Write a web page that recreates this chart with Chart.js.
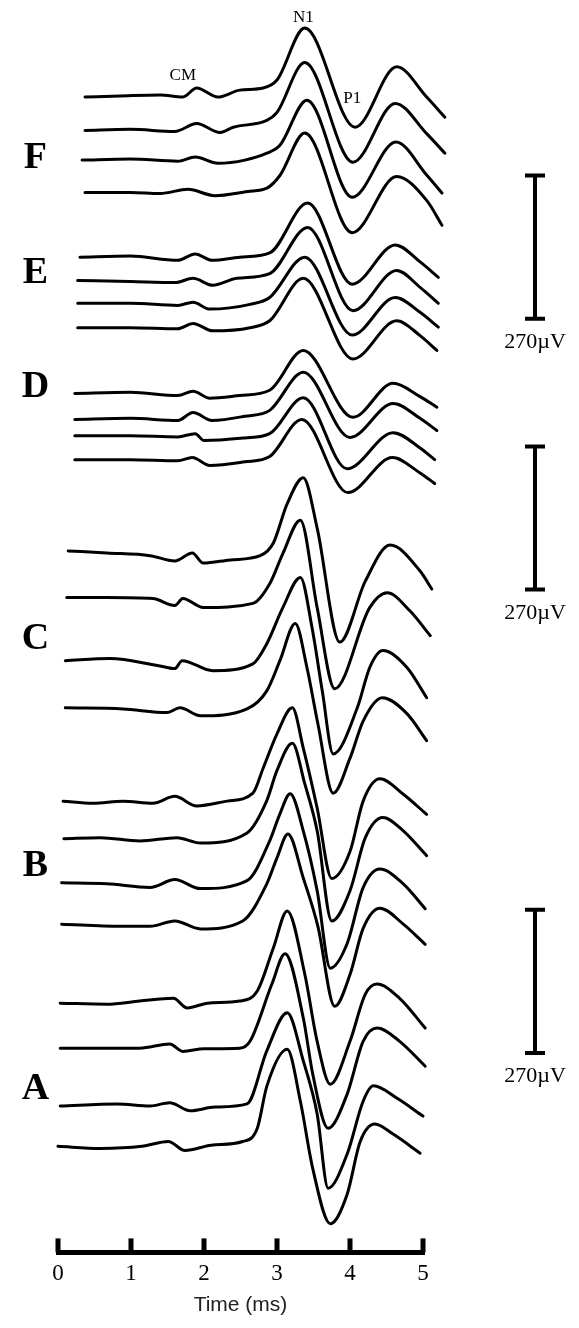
<!DOCTYPE html>
<html>
<head>
<meta charset="utf-8">
<script src="https://cdn.jsdelivr.net/npm/chart.js@4.4.1/dist/chart.umd.min.js"></script>
<style>
  html, body { margin: 0; padding: 0; background: #fff; }
  canvas { display: block; }
</style>
</head>
<body>
<canvas id="chart" width="579" height="1328"></canvas>
<script>
// Stacked evoked responses. Times in ms, amplitudes in µV relative to each trace's baseline.
// Each group holds 4 traces, top to bottom.
const groupNames = ['A', 'B', 'C', 'D', 'E', 'F'];
const xTicks = [0, 1, 2, 3, 4, 5];
const scaleBarValue = 270; // µV

// vertical stacking offsets (µV above the time axis)
const offsetsF = [2181, 2118, 2062, 2001];
const offsetsE = [1879, 1835, 1792, 1746];
const offsetsD = [1622, 1573, 1542, 1497];
const offsetsC = [1325, 1237, 1118, 1029];
const offsetsB = [853, 782, 699, 621];
const offsetsA = [472, 387, 278, 202];

const timesF = [
  [0.37, 0.85, 1.40, 1.71, 1.90, 2.19, 2.49, 2.81, 3.00, 3.38, 4.07, 4.64, 5.05, 5.30],
  [0.37, 0.99, 1.60, 1.90, 2.22, 2.40, 2.86, 3.00, 3.38, 4.04, 4.62, 5.05, 5.30],
  [0.33, 0.99, 1.64, 1.88, 2.19, 2.56, 2.86, 3.04, 3.41, 4.03, 4.63, 5.05, 5.26],
  [0.37, 0.99, 1.40, 1.78, 2.15, 2.60, 2.86, 3.04, 3.38, 4.03, 4.64, 5.05, 5.26]
];
const valuesF = [
  [0, 2, 4, 0, 17, 0, 13, 17, 32, 130, -57, 57, 0, -38],
  [0, 2, -2, 13, -4, 6, 19, 34, 128, -60, 51, -6, -43],
  [0, 2, -2, 6, -6, 0, 13, 28, 113, -70, 34, -28, -62],
  [0, 0, -2, 6, -6, 2, 8, 32, 112, -76, 30, -15, -62]
];

const timesE = [
  [0.30, 0.99, 1.64, 1.88, 2.11, 2.49, 2.90, 3.42, 4.03, 4.62, 4.96, 5.21],
  [0.27, 0.99, 1.60, 1.85, 2.12, 2.45, 2.90, 3.42, 4.04, 4.64, 4.96, 5.21],
  [0.27, 0.99, 1.64, 1.85, 2.08, 2.63, 2.90, 3.38, 4.03, 4.62, 4.96, 5.21],
  [0.27, 0.99, 1.64, 1.85, 2.12, 2.63, 2.90, 3.36, 4.04, 4.64, 4.96, 5.19]
];
const valuesE = [
  [0, 2, -6, 6, -6, 0, 8, 102, -51, 23, -9, -38],
  [0, -2, -4, 4, -9, 4, 13, 100, -57, 19, -13, -43],
  [0, 0, -4, 2, -11, -2, 11, 87, -60, 11, -17, -45],
  [0, 0, -2, 8, -6, 0, 13, 93, -59, 13, -15, -43]
];

const timesD = [
  [0.23, 0.99, 1.64, 1.85, 2.08, 2.49, 2.90, 3.36, 4.04, 4.59, 4.96, 5.19],
  [0.23, 0.99, 1.64, 1.85, 2.11, 2.56, 2.90, 3.36, 4.00, 4.59, 4.96, 5.19],
  [0.23, 0.99, 1.64, 1.88, 2.00, 2.56, 2.90, 3.36, 3.96, 4.59, 4.96, 5.16],
  [0.23, 0.99, 1.64, 1.84, 2.08, 2.56, 2.90, 3.34, 3.97, 4.58, 4.96, 5.16]
];
const valuesD = [
  [0, 2, -4, 4, -9, -4, 6, 81, -45, 19, -6, -26],
  [0, 2, -2, 13, -2, 6, 17, 89, -34, 30, 2, -21],
  [0, 0, -2, 4, -9, -4, 4, 72, -62, 6, -23, -45],
  [0, 0, -2, 4, -11, -4, 6, 76, -62, 4, -25, -45]
];

const timesC = [
  [0.14, 0.67, 1.26, 1.60, 1.84, 1.99, 2.36, 2.77, 2.95, 3.14, 3.36, 3.55, 3.86, 4.21, 4.55, 4.96, 5.12],
  [0.12, 0.67, 1.30, 1.60, 1.71, 1.99, 2.67, 2.90, 3.08, 3.32, 3.55, 3.79, 4.27, 4.51, 4.82, 5.10],
  [0.10, 0.71, 1.36, 1.60, 1.70, 2.12, 2.67, 2.86, 3.08, 3.32, 3.48, 3.62, 3.77, 4.10, 4.27, 4.45, 4.78, 5.05],
  [0.10, 0.89, 1.49, 1.67, 1.95, 2.59, 2.86, 3.04, 3.25, 3.41, 3.56, 3.77, 4.00, 4.18, 4.44, 4.78, 5.05]
];
const valuesC = [
  [0, -4, -9, -19, -4, -23, -17, -9, 15, 89, 138, 43, -172, -57, 11, -38, -72],
  [0, 0, -2, -15, -2, -19, -11, 26, 83, 146, -19, -172, -19, 9, -25, -72],
  [0, 4, -9, -15, 0, -19, -6, 32, 100, 157, 62, -57, -176, -89, -13, 19, -13, -70],
  [0, -2, -9, 0, -15, -2, 32, 89, 159, 76, -30, -161, -95, -25, 19, -11, -62]
];

const timesB = [
  [0.07, 0.48, 0.89, 1.30, 1.60, 1.90, 2.32, 2.67, 2.81, 3.00, 3.21, 3.36, 3.55, 3.75, 4.00, 4.18, 4.41, 4.73, 5.05],
  [0.08, 0.58, 1.12, 1.63, 1.95, 2.59, 2.86, 3.00, 3.21, 3.38, 3.55, 3.75, 4.00, 4.21, 4.45, 4.73, 5.05],
  [0.05, 0.67, 1.26, 1.60, 1.95, 2.59, 2.90, 3.04, 3.18, 3.36, 3.55, 3.73, 3.96, 4.18, 4.41, 4.73, 5.03],
  [0.05, 0.85, 1.26, 1.60, 1.95, 2.53, 2.86, 3.00, 3.15, 3.36, 3.56, 3.79, 4.00, 4.18, 4.41, 4.73, 5.03]
];
const valuesB = [
  [0, -4, 0, -4, 9, -9, 0, 15, 62, 127, 176, 100, -13, -146, -95, 0, 42, 13, -25],
  [0, 2, -4, 2, -8, 11, 72, 129, 180, 104, 15, -155, -98, 2, 40, 15, -32],
  [0, -2, -9, 6, -11, 4, 79, 130, 168, 98, -15, -161, -115, -9, 26, -2, -49],
  [0, -4, -4, 6, -9, 6, 76, 125, 170, 87, -4, -155, -95, -8, 30, 0, -38]
];

const timesA = [
  [0.03, 0.67, 1.12, 1.58, 1.77, 2.05, 2.49, 2.73, 2.95, 3.14, 3.38, 3.55, 3.73, 4.00, 4.21, 4.37, 4.68, 5.03],
  [0.03, 1.12, 1.53, 1.71, 2.00, 2.49, 2.63, 2.93, 3.11, 3.36, 3.49, 3.70, 3.96, 4.18, 4.37, 4.68, 5.03],
  [0.03, 0.81, 1.26, 1.53, 1.81, 2.15, 2.59, 2.86, 3.14, 3.36, 3.55, 3.70, 3.96, 4.18, 4.32, 4.64, 5.00],
  [0.00, 0.58, 1.15, 1.51, 1.74, 2.10, 2.53, 2.73, 2.86, 3.14, 3.32, 3.49, 3.73, 3.96, 4.14, 4.34, 4.59, 4.96]
];
const valuesA = [
  [0, -2, 4, 9, -9, 0, 4, 23, 104, 174, 55, -72, -153, -72, 17, 36, 9, -47],
  [0, 0, 8, -6, -1, 0, 13, 121, 178, 57, -49, -151, -87, 13, 38, 13, -34],
  [0, 4, 0, 6, -9, -2, 4, 104, 176, 85, -15, -155, -91, 9, 38, 15, -19],
  [0, -4, 0, 9, -8, 2, 9, 34, 113, 183, 85, -42, -146, -91, 9, 42, 23, -13]
];

function traces(times, values, offsets) {
  return offsets.map((off, i) => ({
    data: times[i].map((t, j) => ({ x: t, y: off + values[i][j] })),
    borderColor: '#000',
    borderWidth: 3,
    pointRadius: 0,
    cubicInterpolationMode: 'monotone',
    borderCapStyle: 'round',
    borderJoinStyle: 'round',
    fill: false,
    clip: false,
  }));
}

const datasets = [
  ...traces(timesF, valuesF, offsetsF),
  ...traces(timesE, valuesE, offsetsE),
  ...traces(timesD, valuesD, offsetsD),
  ...traces(timesC, valuesC, offsetsC),
  ...traces(timesB, valuesB, offsetsB),
  ...traces(timesA, valuesA, offsetsA),
];

// labels, time axis with upward ticks, and µV scale bars
const decorations = {
  id: 'decorations',
  afterDatasetsDraw(chart, args, opts) {
    const { ctx, chartArea, scales: { x, y } } = chart;
    ctx.save();
    ctx.fillStyle = '#000';
    ctx.strokeStyle = '#000';

    // time axis
    const axisY = chartArea.bottom - 1;
    const x0 = x.getPixelForValue(xTicks[0]);
    const x5 = x.getPixelForValue(xTicks[xTicks.length - 1]);
    ctx.lineWidth = 5;
    ctx.beginPath();
    ctx.moveTo(x0 - 2, axisY);
    ctx.lineTo(x5 + 2, axisY);
    ctx.stroke();
    xTicks.forEach(v => {
      const px = x.getPixelForValue(v);
      ctx.fillRect(px - 2.5, axisY - 14, 5, 14);
    });

    // group letters
    ctx.font = 'bold 38px "Liberation Serif", serif';
    ctx.textAlign = 'center';
    ctx.textBaseline = 'alphabetic';
    groupNames.forEach((name, i) => {
      ctx.fillText(name, x.getPixelForValue(opts.groupLabelX), y.getPixelForValue(opts.groupLabelY[i]));
    });

    // peak names
    ctx.font = '17px "Liberation Serif", serif';
    opts.peaks.forEach(p => {
      ctx.fillText(p.text, x.getPixelForValue(p.t), y.getPixelForValue(p.v));
    });

    // scale bars
    const barX = x5 + 112;
    ctx.font = '22px "Liberation Serif", serif';
    opts.scaleBarBottoms.forEach(b => {
      const y0 = y.getPixelForValue(b);
      const y1 = y.getPixelForValue(b + scaleBarValue);
      ctx.lineWidth = 4;
      ctx.beginPath();
      ctx.moveTo(barX, y0);
      ctx.lineTo(barX, y1);
      ctx.moveTo(barX - 10, y0);
      ctx.lineTo(barX + 10, y0);
      ctx.moveTo(barX - 10, y1);
      ctx.lineTo(barX + 10, y1);
      ctx.stroke();
      ctx.fillText(scaleBarValue + 'µV', barX, y0 + 29);
    });
    ctx.restore();
  }
};

const ctx = document.getElementById('chart').getContext('2d');
new Chart(ctx, {
  type: 'line',
  data: { datasets: datasets },
  options: {
    responsive: false,
    animation: false,
    devicePixelRatio: 1,
    layout: { padding: { left: 58, right: 156, top: 0, bottom: 8 } },
    plugins: {
      legend: { display: false },
      tooltip: { enabled: false },
      decorations: {
        groupLabelX: -0.31,
        groupLabelY: [291, 712, 1140, 1616, 1830, 2047],
        peaks: [
          { text: 'CM', t: 1.71, v: 2213 },
          { text: 'N1', t: 3.36, v: 2322 },
          { text: 'P1', t: 4.03, v: 2169 },
        ],
        scaleBarBottoms: [1763, 1252, 378],
      },
    },
    scales: {
      x: {
        type: 'linear',
        // range set after data limits so the traces running past 5 ms are still drawn
        afterDataLimits: (axis) => { axis.min = 0; axis.max = 5; },
        afterBuildTicks: (axis) => { axis.ticks = xTicks.map(v => ({ value: v })); },
        ticks: {
          stepSize: 1,
          color: '#000',
          padding: 7,
          font: { family: '"Liberation Serif", serif', size: 23 },
        },
        grid: { display: false, drawTicks: false },
        border: { display: false },
        title: {
          display: true,
          text: 'Time (ms)',
          color: '#222',
          font: { family: '"Liberation Sans", Arial, sans-serif', size: 21, lineHeight: 1 },
          padding: { top: 0, bottom: 4 },
        },
      },
      y: {
        type: 'linear',
        display: false,
        min: 0,
        max: 2364,
      },
    },
  },
  plugins: [decorations],
});
</script>
</body>
</html>
